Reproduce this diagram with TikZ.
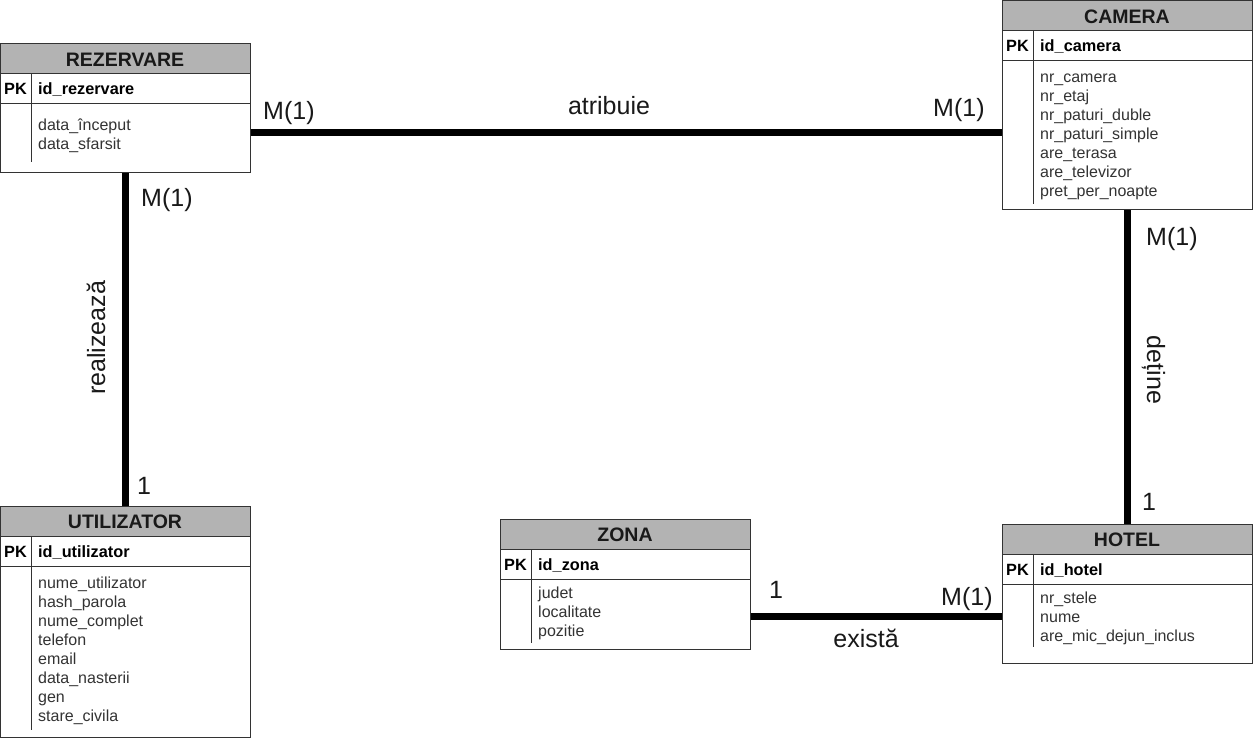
\documentclass[tikz,border=0pt]{standalone}
\usepackage{fontspec}
\setmainfont{Liberation Sans}
\definecolor{hdrfill}{HTML}{B3B3B3}
\definecolor{tborder}{HTML}{333333}
\definecolor{attrcol}{HTML}{333333}
\tikzset{
  tbl/.style={draw=tborder, line width=1pt, inner sep=0pt, fill=white},
  tline/.style={draw=tborder, line width=1pt},
  htext/.style={anchor=base, inner sep=0pt, font=\fontsize{19.5}{21}\selectfont\bfseries, text=black!90},
  pktext/.style={anchor=base west, inner sep=0pt, font=\fontsize{16.3}{18}\selectfont\bfseries, text=black},
  attr/.style={anchor=base west, inner sep=0pt, font=\fontsize{16}{19}\selectfont, text=attrcol},
  conn/.style={line width=7pt, draw=black},
  lbl/.style={anchor=base west, inner sep=0pt, font=\fontsize{25}{27}\selectfont, text=black!90},
}
% #1 name, #2 x, #3 y, #4 height, #5 title, #6 pk, #7 divider end (abs y)
\newcommand\ertab[7]{%
  \node[tbl, minimum width=250, minimum height=#4] (#1) at ({#2+125},{#3+#4/2}) {};
  \fill[hdrfill] (#2,#3) rectangle ({#2+250},{#3+30});
  \draw[tline] (#2,#3) rectangle ({#2+250},{#3+#4});
  \draw[tline] (#2,{#3+30}) -- ++(250,0);
  \draw[tline] (#2,{#3+60}) -- ++(250,0);
  \draw[tline] ({#2+31},{#3+30}) -- ({#2+31},#7);
  \node[htext] (#1-title) at ({#2+125},{#3+22.5}) {#5};
  \node[pktext] (#1-pk) at ({#2+4},{#3+51}) {PK};
  \node[pktext] (#1-id) at ({#2+38},{#3+51}) {#6};
}
\begin{document}
\begin{tikzpicture}[x=1pt,y=-1pt]
\useasboundingbox[fill=white] (0,0) rectangle (1253,738);

% tables
\ertab{rez}{0}{44}{129}{REZERVARE}{id\_rezervare}{162}
\foreach \t [count=\i from 0] in {data\_început,data\_sfarsit}
  \node[attr] (rez-a\i) at (38,{130.5+19*\i}) {\t};

\ertab{cam}{1002}{1}{209}{CAMERA}{id\_camera}{204}
\foreach \t [count=\i from 0] in {nr\_camera,nr\_etaj,nr\_paturi\_duble,nr\_paturi\_simple,are\_terasa,are\_televizor,pret\_per\_noapte}
  \node[attr] (cam-a\i) at (1040,{83+19*\i}) {\t};

\ertab{util}{0}{506}{231}{UTILIZATOR}{id\_utilizator}{730}
\foreach \t [count=\i from 0] in {nume\_utilizator,hash\_parola,nume\_complet,telefon,email,data\_nasterii,gen,stare\_civila}
  \node[attr] (util-a\i) at (38,{588+19*\i}) {\t};

\ertab{zona}{500}{519}{130}{ZONA}{id\_zona}{643}
\foreach \t [count=\i from 0] in {judet,localitate,pozitie}
  \node[attr] (zona-a\i) at (538,{598+19*\i}) {\t};

\ertab{hotel}{1002}{524}{139}{HOTEL}{id\_hotel}{647}
\foreach \t [count=\i from 0] in {nr\_stele,nume,are\_mic\_dejun\_inclus}
  \node[attr] (hotel-a\i) at (1040,{603+19*\i}) {\t};

% connectors
\coordinate (ya) at (0,132.5);
\coordinate (xr) at (125.5,0);
\coordinate (xd) at (1127.5,0);
\coordinate (ye) at (0,616);
\draw[conn] (rez.east |- ya) -- (cam.west |- ya);
\draw[conn] (rez.south -| xr) -- (util.north -| xr);
\draw[conn] (cam.south -| xd) -- (hotel.north -| xd);
\draw[conn] (zona.east |- ye) -- (hotel.west |- ye);

% labels
\node[lbl] (l1) at (263,120) {M(1)};
\node[lbl, anchor=base] (l2) at (609,115) {atribuie};
\node[lbl] (l3) at (933,116.5) {M(1)};
\node[lbl] (l4) at (141,207) {M(1)};
\node[lbl, anchor=base, rotate=90] (l5) at (105,338) {realizează};
\node[lbl] (l6) at (137,494) {1};
\node[lbl] (l7) at (1146,245) {M(1)};
\node[lbl, anchor=base, rotate=-90] (l8) at (1147,370) {deține};
\node[lbl] (l9) at (1142,510) {1};
\node[lbl] (l10) at (769,598) {1};
\node[lbl] (l11) at (941,605) {M(1)};
\node[lbl, anchor=base] (l12) at (866,647) {există};
\end{tikzpicture}
\end{document}
